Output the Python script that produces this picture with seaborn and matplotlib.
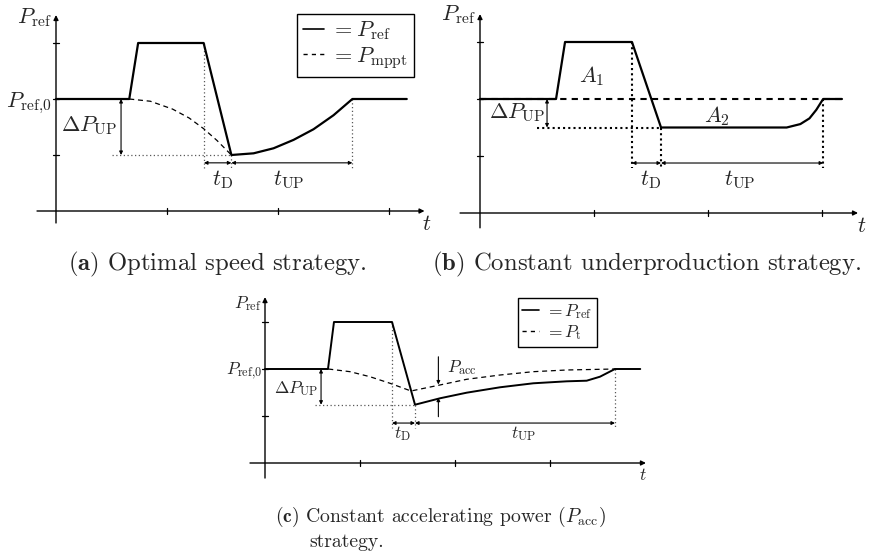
import matplotlib
matplotlib.use("Agg")
import matplotlib.pyplot as plt
from matplotlib.lines import Line2D
import numpy as np
import pandas as pd
import seaborn as sns

sns.set_theme(style="white")
plt.rcParams["font.family"] = "serif"
plt.rcParams["font.serif"] = ["cmr10", "DejaVu Serif"]
plt.rcParams["mathtext.fontset"] = "cm"
plt.rcParams["axes.unicode_minus"] = False

W, H = 873, 558

# ---------------- data (t, P in schematic units) ----------------
# (a) optimal speed strategy
a_ref_t = [0.0, 0.66, 0.74, 1.33, 1.58, 1.78, 1.96, 2.14, 2.32, 2.50, 2.67, 3.16]
a_ref_p = [2.0, 2.0, 3.0, 3.0, 1.0, 1.03, 1.12, 1.27, 1.46, 1.71, 2.0, 2.0]
a_mppt_t = [0.66, 0.85, 1.05, 1.20, 1.33, 1.45, 1.58]
a_mppt_p = [2.0, 1.96, 1.82, 1.66, 1.47, 1.26, 1.0]

# (b) constant underproduction strategy
b_ref_t = [0.0, 0.667, 0.746, 1.333, 1.588, 2.69, 2.81, 2.89, 2.95, 3.01, 3.175]
b_ref_p = [2.0, 2.0, 3.0, 3.0, 1.5, 1.5, 1.56, 1.66, 1.81, 2.0, 2.0]
b_mppt_t = [0.0, 3.175]
b_mppt_p = [2.0, 2.0]

# (c) constant accelerating power strategy
c_ref_t = [0.0, 0.663, 0.726, 1.337, 1.579, 1.842, 2.123, 2.474, 2.824, 3.176, 3.386, 3.526, 3.684, 3.95]
c_ref_p = [2.0, 2.0, 3.0, 3.0, 1.24, 1.377, 1.496, 1.611, 1.696, 1.738, 1.751, 1.836, 2.0, 2.0]
c_t_t = [0.666, 0.895, 1.105, 1.316, 1.537, 1.842, 2.123, 2.474, 2.824, 3.176, 3.684]
c_t_p = [2.0, 1.943, 1.836, 1.696, 1.532, 1.66, 1.781, 1.872, 1.943, 1.979, 2.0]

tick_vals = [1, 2, 3]

fig = plt.figure(figsize=(W / 100, H / 100), dpi=100)


def panel(x0, y0, w, h, ox, oy, ux, uy):
    """Axes covering a pixel box; data units map to ux/uy pixels from origin (ox, oy)."""
    ax = fig.add_axes([x0 / W, 1 - (y0 + h) / H, w / W, h / H])
    ax.set_xlim((x0 - ox) / ux, (x0 + w - ox) / ux)
    ax.set_ylim((oy - (y0 + h)) / uy, (oy - y0) / uy)
    ax.set_axis_off()
    ax.ux, ax.uy = ux, uy
    return ax


def arrow(ax, start, end, style="-|>", lw=0.9, ms=7, color="black"):
    ax.annotate("", xy=end, xytext=start,
                arrowprops=dict(arrowstyle=style, lw=lw, color=color,
                                mutation_scale=ms, shrinkA=0, shrinkB=0),
                annotation_clip=False)


def axes_frame(ax, xr, yr):
    arrow(ax, (xr[0], 0), (xr[1], 0), lw=1.0, ms=7)
    arrow(ax, (0, yr[0]), (0, yr[1]), lw=1.0, ms=7)
    hx, hy = 3 / ax.ux, 3 / ax.uy
    for v in tick_vals:
        ax.plot([v, v], [-hy, hy], color="black", lw=0.9)
        ax.plot([-hx, hx], [v, v], color="black", lw=0.9)


def curve(ax, t, p, **kw):
    df = pd.DataFrame({"t": t, "P": p})
    sns.lineplot(data=df, x="t", y="P", ax=ax, sort=False, estimator=None,
                 color="black", legend=False, **kw)


def dotted(ax, xs, ys, color="0.35", lw=0.9, dash=(1, 2)):
    ax.plot(xs, ys, color=color, lw=lw, linestyle=(0, dash), dash_capstyle="butt")


def legend_box(ax, lab1, lab2, anchor, fs):
    h = [Line2D([0], [0], color="black", lw=1.2),
         Line2D([0], [0], color="black", lw=1.0, linestyle=(0, (3, 3)))]
    lg = ax.legend(h, [lab1, lab2], loc="upper left", bbox_to_anchor=anchor,
                   bbox_transform=fig.transFigure, frameon=True, fancybox=False,
                   edgecolor="black", framealpha=1, fontsize=fs, handlelength=0.95,
                   handletextpad=0.35, borderpad=0.25, labelspacing=0.12,
                   borderaxespad=0)
    lg.get_frame().set_linewidth(1.0)


def txt(ax, x, y, s, fs, ha="center"):
    ax.text(x, y, s, fontsize=fs, ha=ha, va="baseline", clip_on=False)


# ---------------- (a) ----------------
ax = panel(0, 0, 440, 240, 56, 211, 111, 56)
fs = 16
axes_frame(ax, (-0.171, 3.32), (-0.214, 3.5))
dotted(ax, [1.333, 1.333], [3.0, 0.77])
dotted(ax, [1.58, 1.58], [1.0, 0.77])
dotted(ax, [2.67, 2.67], [2.0, 0.77])
dotted(ax, [0.505, 1.58], [1.0, 1.0])
curve(ax, a_mppt_t, a_mppt_p, lw=0.9, linestyle=(0, (4, 3)))
curve(ax, a_ref_t, a_ref_p, lw=1.6)
arrow(ax, (0.586, 2.0), (0.586, 1.0), style="<|-|>", lw=0.8, ms=5)
arrow(ax, (1.333, 0.86), (1.58, 0.86), style="<|-|>", lw=0.8, ms=5)
arrow(ax, (1.58, 0.86), (2.67, 0.86), style="<|-|>", lw=0.8, ms=5)
txt(ax, -0.036, 3.35, r"$P_{\mathrm{ref}}$", fs, ha="right")
txt(ax, -0.036, 1.857, r"$P_{\mathrm{ref},\!0}$", fs, ha="right")
txt(ax, 0.55, 1.416, r"$\Delta P_{\mathrm{UP}}$", fs, ha="right")
txt(ax, 1.50, 0.464, r"$t_{\mathrm{D}}$", fs)
txt(ax, 2.10, 0.464, r"$t_{\mathrm{UP}}$", fs)
txt(ax, 3.34, -0.34, r"$t$", fs)
legend_box(ax, r"$=P_{\mathrm{ref}}$", r"$=P_{\mathrm{mppt}}$", (297 / W, 1 - 14 / H), fs)

# ---------------- (b) ----------------
ax = panel(440, 0, 433, 240, 480, 213, 114, 57)
axes_frame(ax, (-0.175, 3.316), (-0.26, 3.49))
dotted(ax, [1.333, 1.333], [3.0, 0.79], color="black", lw=1.5, dash=(1, 1.5))
dotted(ax, [1.588, 1.588], [1.5, 0.79], color="black", lw=1.5, dash=(1, 1.5))
dotted(ax, [3.01, 3.01], [2.0, 0.79], color="black", lw=1.5, dash=(1, 1.5))
dotted(ax, [0.5, 1.588], [1.5, 1.5], color="black", lw=1.5, dash=(1, 1.5))
curve(ax, b_mppt_t, b_mppt_p, lw=1.5, linestyle=(0, (3, 2.5)))
curve(ax, b_ref_t, b_ref_p, lw=1.6)
arrow(ax, (0.588, 2.0), (0.588, 1.5), style="<|-|>", lw=0.8, ms=5)
arrow(ax, (1.333, 0.877), (1.588, 0.877), style="<|-|>", lw=0.8, ms=5)
arrow(ax, (1.588, 0.877), (3.01, 0.877), style="<|-|>", lw=0.8, ms=5)
txt(ax, -0.035, 3.39, r"$P_{\mathrm{ref}}$", fs, ha="right")
txt(ax, 0.98, 2.30, r"$A_1$", fs)
txt(ax, 2.08, 1.60, r"$A_2$", fs)
txt(ax, 0.57, 1.67, r"$\Delta P_{\mathrm{UP}}$", fs, ha="right")
txt(ax, 1.50, 0.49, r"$t_{\mathrm{D}}$", fs)
txt(ax, 2.28, 0.49, r"$t_{\mathrm{UP}}$", fs)
txt(ax, 3.35, -0.33, r"$t$", fs)

# ---------------- (c) ----------------
ax = panel(200, 280, 460, 210, 265, 463, 95, 47)
fs2 = 12.5
axes_frame(ax, (-0.158, 4.01), (-0.32, 3.53))
dotted(ax, [1.337, 1.337], [3.0, 0.745])
dotted(ax, [1.579, 1.579], [1.24, 0.745])
dotted(ax, [3.684, 3.684], [2.0, 0.745])
dotted(ax, [0.526, 1.579], [1.24, 1.24])
curve(ax, c_t_t, c_t_p, lw=0.9, linestyle=(0, (4, 3)))
curve(ax, c_ref_t, c_ref_p, lw=1.4)
arrow(ax, (0.59, 2.0), (0.59, 1.24), style="<|-|>", lw=0.8, ms=5)
arrow(ax, (1.337, 0.85), (1.579, 0.85), style="<|-|>", lw=0.8, ms=5)
arrow(ax, (1.579, 0.85), (3.684, 0.85), style="<|-|>", lw=0.8, ms=5)
arrow(ax, (1.825, 2.26), (1.825, 1.67), lw=0.8, ms=5)
arrow(ax, (1.825, 0.985), (1.825, 1.39), lw=0.8, ms=5)
txt(ax, -0.03, 3.3, r"$P_{\mathrm{ref}}$", fs2, ha="right")
txt(ax, -0.03, 1.89, r"$P_{\mathrm{ref},\!0}$", fs2, ha="right")
txt(ax, 0.56, 1.49, r"$\Delta P_{\mathrm{UP}}$", fs2, ha="right")
txt(ax, 1.916, 1.94, r"$P_{\mathrm{acc}}$", fs2, ha="left")
txt(ax, 1.45, 0.53, r"$t_{\mathrm{D}}$", fs2)
txt(ax, 2.72, 0.53, r"$t_{\mathrm{UP}}$", fs2)
txt(ax, 3.98, -0.36, r"$t$", fs2)
legend_box(ax, r"$=P_{\mathrm{ref}}$", r"$=P_{\mathrm{t}}$", (518 / W, 1 - 298 / H), fs2)

# ---------------- captions ----------------
cfs = 17.8
fig.text(68 / W, 1 - 270 / H, r"$\mathbf{(a)}$ Optimal speed strategy.", fontsize=cfs, va="baseline")
fig.text(432 / W, 1 - 270 / H, r"$\mathbf{(b)}$ Constant underproduction strategy.", fontsize=cfs, va="baseline")
cfs2 = 14.2
fig.text(275 / W, 1 - 522 / H, r"$\mathbf{(c)}$ Constant accelerating power ($P_{\mathrm{acc}}$)", fontsize=cfs2, va="baseline")
fig.text(309 / W, 1 - 547 / H, "strategy.", fontsize=cfs2, va="baseline")

fig.savefig("out.png", dpi=100)
